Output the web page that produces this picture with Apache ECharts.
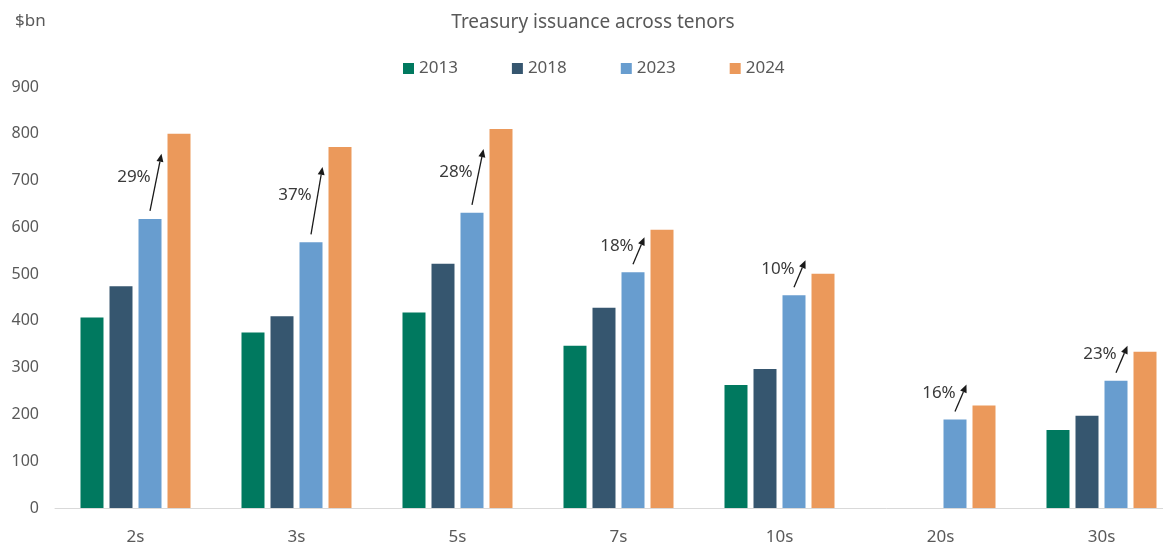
<!DOCTYPE html>
<html>
<head>
<meta charset="utf-8">
<title>Treasury issuance across tenors</title>
<script src="https://cdn.jsdelivr.net/npm/echarts@6/dist/echarts.min.js"></script>
<style>
  html, body { margin: 0; padding: 0; background: #fff; }
  #main { width: 1163px; height: 550px; }
</style>
</head>
<body>
<div id="main"></div>
<script>
// data ($bn)
var tenors = ['2s', '3s', '5s', '7s', '10s', '20s', '30s']
var yearNames = ['2013', '2018', '2023', '2024']
var y2013 = [407, 375, 418, 347, 263, null, 167]
var y2018 = [474, 410, 522, 428, 297, null, 197]
var y2023 = [618, 568, 631, 504, 455, 189, 272]
var y2024 = [800, 772, 810, 595, 501, 219, 334]
var growthLabels = ['29%', '37%', '28%', '18%', '10%', '16%', '23%']
var yTicks = [0, 100, 200, 300, 400, 500, 600, 700, 800, 900]

var colors = ['#00795f', '#36566f', '#689dcf', '#eb995b']
var barW = 23
var barGapPx = 6
var font = 'Noto Sans'

// bar centre offset inside a category (4 bars)
function barOffset (i) {
  var groupW = 4 * barW + 3 * barGapPx
  return -groupW / 2 + barW / 2 + i * (barW + barGapPx)
}

function makeBar (name, data, color) {
  return {
    name: name,
    type: 'bar',
    data: data,
    barWidth: barW,
    barGap: (barGapPx / barW * 100).toFixed(1) + '%',
    itemStyle: { color: color },
    emphasis: { disabled: true }
  }
}

// arrows from the 2023 bar up towards the 2024 bar, with % growth label
var arrowData = tenors.map(function (t, i) {
  return [i, y2023[i], y2024[i], growthLabels[i]]
})

function renderArrow (params, api) {
  var idx = api.value(0)
  var p23 = api.coord([idx, api.value(1)])
  var p24 = api.coord([idx, api.value(2)])
  var x1 = p23[0] + barOffset(2)
  var y1 = p23[1] - 8
  var x2 = p24[0] + barOffset(3) - barW / 2 - 6
  var y2 = Math.min(p24[1] + 20, p23[1] - 35)
  var ang = Math.atan2(y2 - y1, x2 - x1)
  var hl = 8
  var hw = 3.5
  var bx = x2 - hl * Math.cos(ang)
  var by = y2 - hl * Math.sin(ang)
  var nx = -Math.sin(ang)
  var ny = Math.cos(ang)
  var mx = (x1 + x2) / 2
  var my = (y1 + y2) / 2
  return {
    type: 'group',
    children: [
      {
        type: 'line',
        shape: { x1: x1, y1: y1, x2: bx, y2: by },
        style: { stroke: '#1a1a1a', lineWidth: 1.3 }
      },
      {
        type: 'polygon',
        shape: { points: [[x2, y2], [bx + nx * hw, by + ny * hw], [bx - nx * hw, by - ny * hw]] },
        style: { fill: '#1a1a1a' }
      },
      {
        type: 'text',
        x: mx - 5,
        y: my - 5,
        style: {
          text: api.value(3),
          fill: '#3a3a3a',
          font: '17px "' + font + '"',
          align: 'right',
          verticalAlign: 'middle'
        }
      }
    ]
  }
}

var option = {
  backgroundColor: '#fff',
  animation: false,
  textStyle: { fontFamily: font },
  title: [
    {
      text: 'Treasury issuance across tenors',
      left: 588,
      textAlign: 'center',
      top: 8,
      textStyle: { color: '#595959', fontSize: 19, fontWeight: 'normal', fontFamily: font }
    },
    {
      text: '$bn',
      left: 10,
      top: 8,
      textStyle: { color: '#595959', fontSize: 17, fontWeight: 'normal', fontFamily: font }
    }
  ],
  legend: {
    data: yearNames,
    left: 398,
    top: 55,
    icon: 'rect',
    itemWidth: 11,
    itemHeight: 11,
    itemGap: 54,
    textStyle: { color: '#595959', fontSize: 17, fontFamily: font }
  },
  grid: {
    left: 55,
    top: 87,
    bottom: 42,
    width: 1127,
    outerBoundsMode: 'none'
  },
  xAxis: {
    type: 'category',
    data: tenors,
    axisLine: { lineStyle: { color: '#d9d9d9', width: 1 } },
    axisTick: { show: false },
    axisLabel: { color: '#595959', fontSize: 17, margin: 21, fontFamily: font }
  },
  yAxis: {
    type: 'value',
    min: yTicks[0],
    max: yTicks[yTicks.length - 1],
    interval: yTicks[1] - yTicks[0],
    splitLine: { show: false },
    axisLine: { show: false },
    axisTick: { show: false },
    axisLabel: { color: '#595959', fontSize: 16, margin: 16, fontFamily: font }
  },
  series: [
    makeBar(yearNames[0], y2013, colors[0]),
    makeBar(yearNames[1], y2018, colors[1]),
    makeBar(yearNames[2], y2023, colors[2]),
    makeBar(yearNames[3], y2024, colors[3]),
    {
      name: 'growth',
      type: 'custom',
      data: arrowData,
      renderItem: renderArrow,
      clip: false,
      z: 5,
      silent: true,
      encode: { x: 0, y: [1, 2] }
    }
  ]
}

var chart = echarts.init(document.getElementById('main'), null, { renderer: 'canvas' })
chart.setOption(option)
</script>
</body>
</html>
